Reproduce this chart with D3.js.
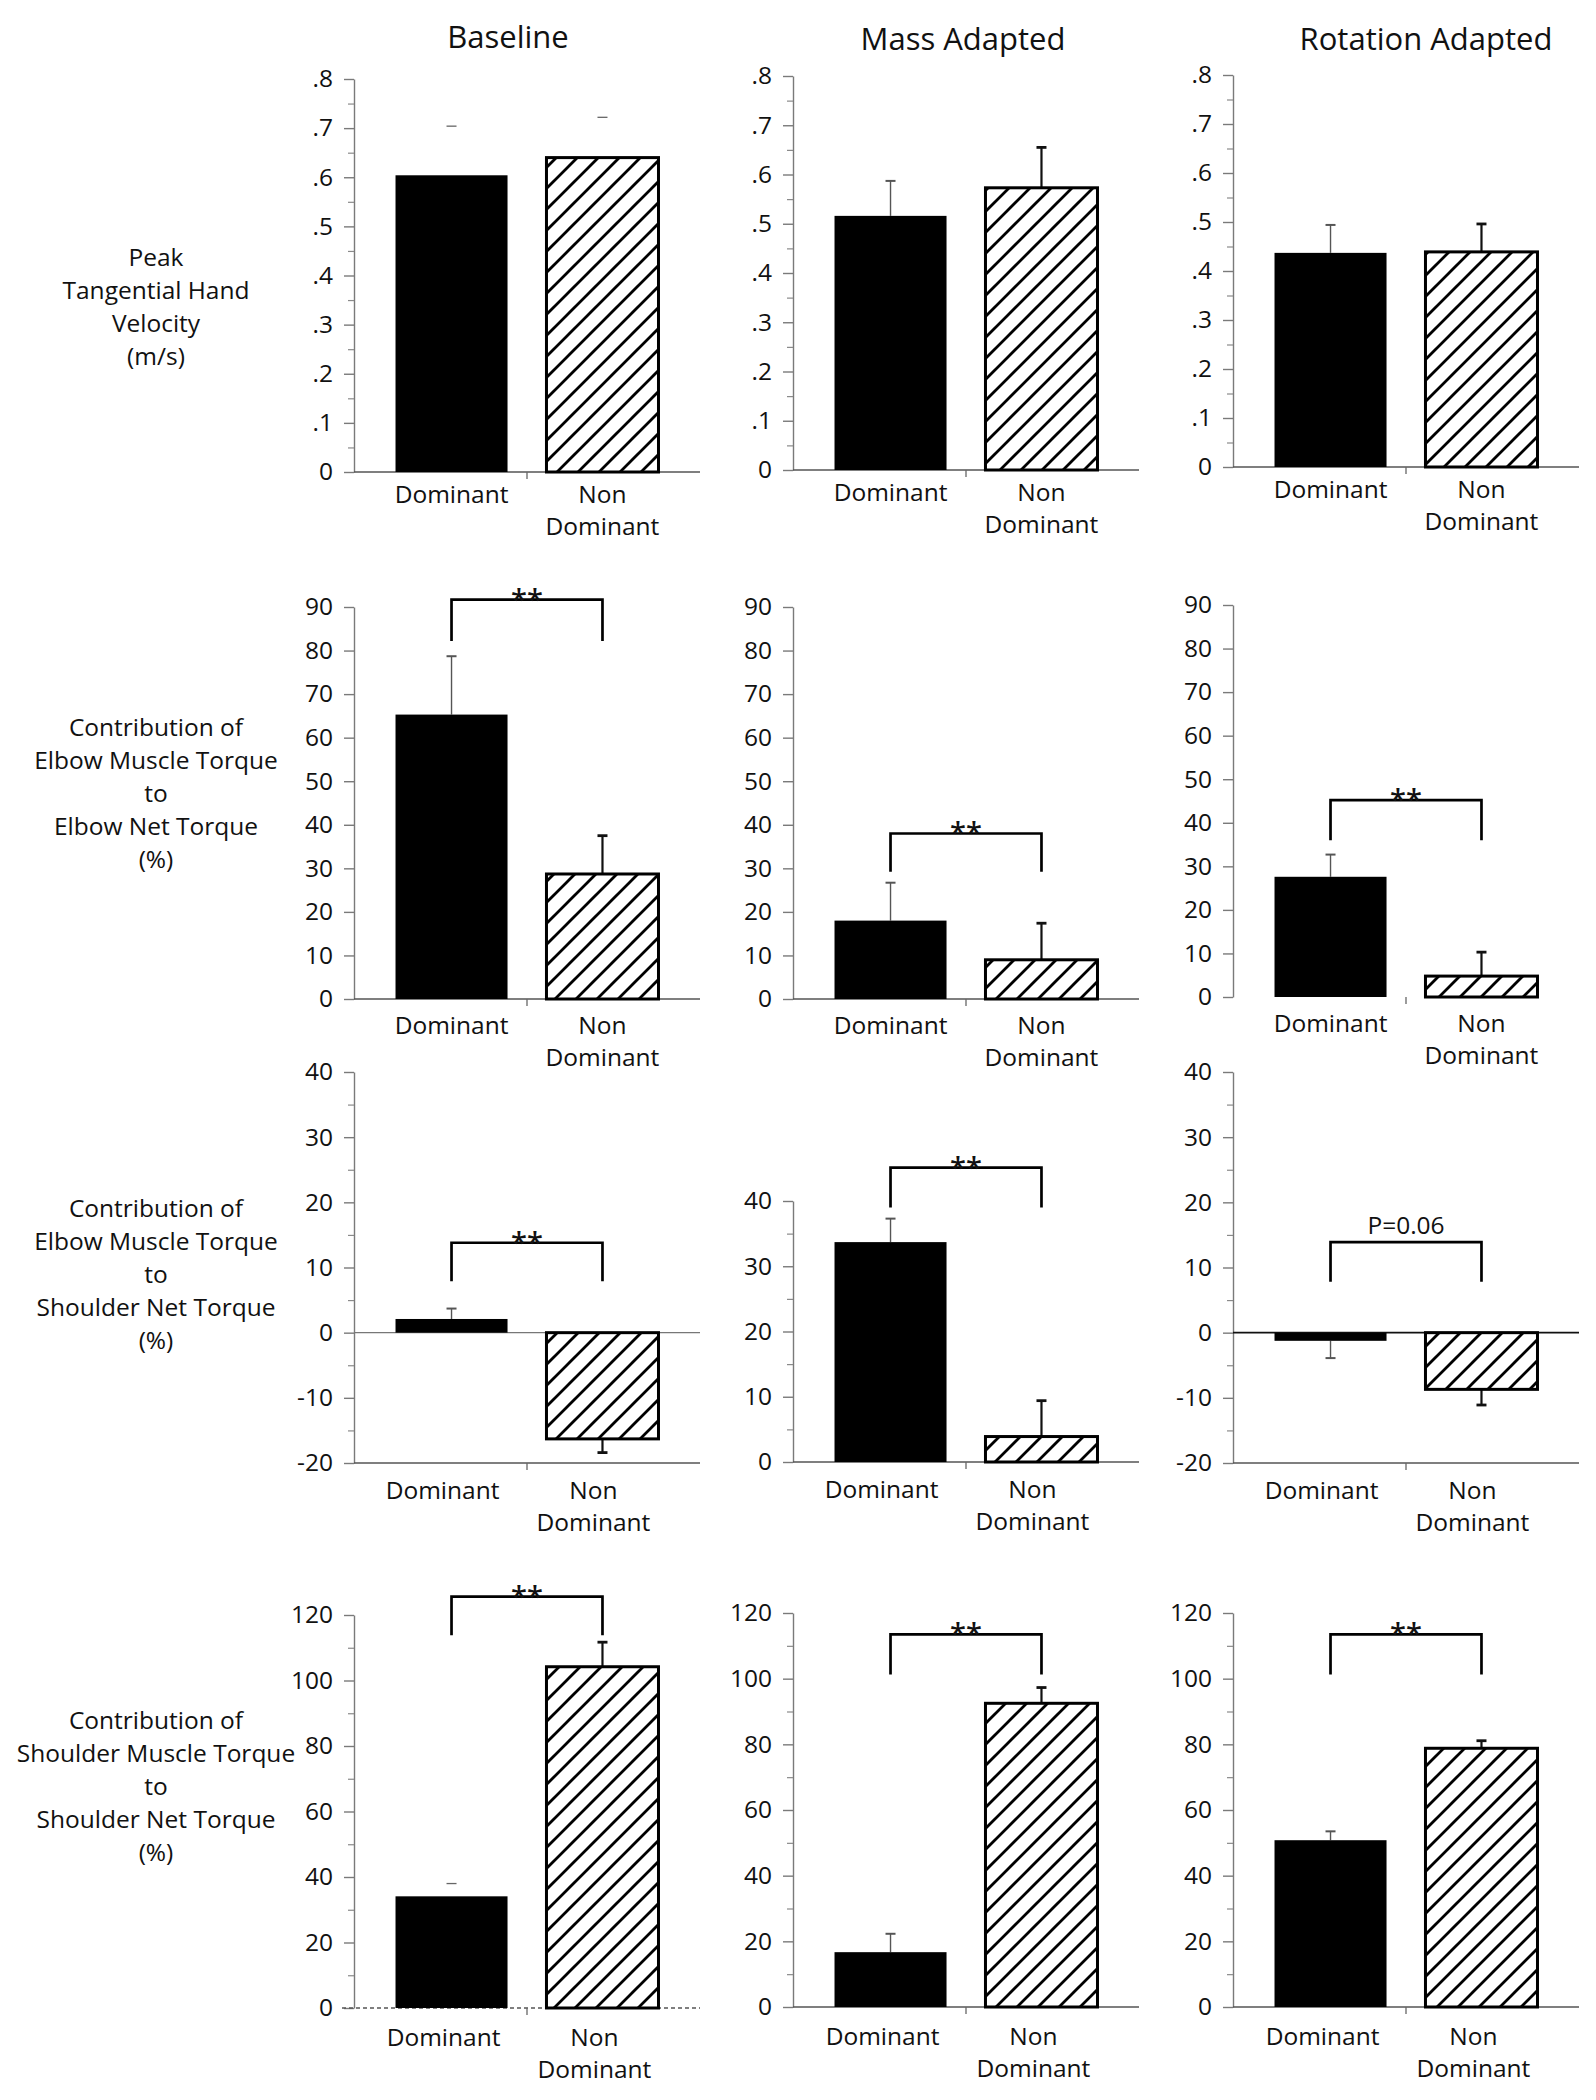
<!DOCTYPE html>
<html><head><meta charset="utf-8">
<script src="https://cdn.jsdelivr.net/npm/d3@7"></script>
<style>
body{margin:0;background:#fff;}
svg text{font-family:"Open Sans",sans-serif;fill:#111;}
</style></head><body>
<svg id="chart" width="1596" height="2100"></svg>
<script>
// ---------------- DATA ----------------
const conditions = ["Baseline", "Mass Adapted", "Rotation Adapted"];
const hands = ["Dominant", "Non Dominant"];
const handLabelLines = [["Dominant"], ["Non", "Dominant"]];

const measureTitles = [
  ["Peak", "Tangential Hand", "Velocity", "(m/s)"],
  ["Contribution of", "Elbow Muscle Torque", "to", "Elbow Net Torque", "(%)"],
  ["Contribution of", "Elbow Muscle Torque", "to", "Shoulder Net Torque", "(%)"],
  ["Contribution of", "Shoulder Muscle Torque", "to", "Shoulder Net Torque", "(%)"]
];

// values are [condition][hand]
const peakVelocityMean = [[0.604, 0.640], [0.516, 0.573], [0.437, 0.439]];
const peakVelocitySD   = [[0.100, 0.082], [0.071, 0.082], [0.057, 0.057]];

const elbowToElbowMean = [[65.3, 28.7], [18.0, 9.0], [27.6, 4.8]];
const elbowToElbowSD   = [[13.4, 8.8], [8.7, 8.4], [5.1, 5.5]];

const elbowToShoulderMean = [[2.1, -16.3], [33.7, 3.9], [-1.25, -8.7]];
const elbowToShoulderSD   = [[1.6, 2.1], [3.6, 5.5], [2.65, 2.4]];

const shoulderToShoulderMean = [[34.1, 104.2], [16.7, 92.5], [50.8, 78.8]];
const shoulderToShoulderSD   = [[3.9, 7.5], [5.6, 4.8], [2.7, 2.3]];

const significanceLabels = [
  [null, null, null],
  ["**", "**", "**"],
  ["**", "**", "P=0.06"],
  ["**", "**", "**"]
];

// tick values and tick labels
const velocityTicks = [0, 0.1, 0.2, 0.3, 0.4, 0.5, 0.6, 0.7, 0.8];
const velocityTickLabels = ["0", ".1", ".2", ".3", ".4", ".5", ".6", ".7", ".8"];
const velocityMinorTicks = [0.05, 0.15, 0.25, 0.35, 0.45, 0.55, 0.65, 0.75];

const elbowElbowTicks = [0, 10, 20, 30, 40, 50, 60, 70, 80, 90];
const elbowElbowTickLabels = ["0", "10", "20", "30", "40", "50", "60", "70", "80", "90"];

const elbowShoulderTicks = [-20, -10, 0, 10, 20, 30, 40];
const elbowShoulderTickLabels = ["-20", "-10", "0", "10", "20", "30", "40"];
const elbowShoulderMinorTicks = [-15, -5, 5, 15, 25, 35];
const elbowShoulderMassTicks = [0, 10, 20, 30, 40];
const elbowShoulderMassTickLabels = ["0", "10", "20", "30", "40"];
const elbowShoulderMassMinorTicks = [5, 15, 25, 35];

const shoulderTicks = [0, 20, 40, 60, 80, 100, 120];
const shoulderTickLabels = ["0", "20", "40", "60", "80", "100", "120"];
const shoulderMinorTicks = [10, 30, 50, 70, 90, 110];

// ---------------- LAYOUT / STYLE ----------------
const colX = [354, 793, 1233];
const titleX = [508, 963, 1426];
const axisLen = 346;
// pixel rows of [domain max, domain min] per panel
const panelPix = [
  [[79, 472], [76, 470], [75, 467]],
  [[607, 999], [607, 999], [605, 997]],
  [[1072, 1463], [1201, 1462], [1072, 1463]],
  [[1615, 2008], [1613, 2007], [1613, 2007]]
];
const rowSpec = [
  {mean: peakVelocityMean, sd: peakVelocitySD, ticks: velocityTicks, labels: velocityTickLabels, minor: velocityMinorTicks, domain: [0, 0.8]},
  {mean: elbowToElbowMean, sd: elbowToElbowSD, ticks: elbowElbowTicks, labels: elbowElbowTickLabels, minor: [], domain: [0, 90]},
  {mean: elbowToShoulderMean, sd: elbowToShoulderSD, ticks: elbowShoulderTicks, labels: elbowShoulderTickLabels, minor: elbowShoulderMinorTicks, domain: [-20, 40]},
  {mean: shoulderToShoulderMean, sd: shoulderToShoulderSD, ticks: shoulderTicks, labels: shoulderTickLabels, minor: shoulderMinorTicks, domain: [0, 120]}
];
// per-panel overrides
function panelScale(r, c) {
  if (r === 2 && c === 1) return {ticks: elbowShoulderMassTicks, labels: elbowShoulderMassTickLabels, minor: elbowShoulderMassMinorTicks, domain: [0, 40]};
  return rowSpec[r];
}
// bracket heights in data units [top, leg end]
const bracketPos = [
  [null, null, null],
  [[91.7, 82.2], [38.0, 29.2], [45.2, 36.0]],
  [[13.8, 7.9], [45.1, 39.0], [13.9, 7.8]],
  [[125.6, 113.8], [113.5, 101.3], [113.5, 101.3]]
];
const baselineStyle = [
  ["solid", "solid", "solid"],
  ["solid", "solid", "none"],
  ["solid", "solid", "solid"],
  ["dashed", "solid", "solid"]
];
const capOnly = {"0-0-0": true, "0-0-1": true, "3-0-0": true};
const labelOffset = [31, 35, 36, 38];
const labelDx = [0, 0, -9, -8];
const measureLabelY = [266, 736, 1217, 1729];

// ---------------- DRAW ----------------
const svg = d3.select("#chart");
const defs = svg.append("defs");
const H = 21;
const pat = defs.append("pattern").attr("id", "hatch").attr("patternUnits", "userSpaceOnUse")
  .attr("width", H).attr("height", H);
pat.append("rect").attr("width", H).attr("height", H).attr("fill", "#fff");
pat.append("path").attr("d", `M-5,5 L5,-5 M0,${H} L${H},0 M${H - 5},${H + 5} L${H + 5},${H - 5}`)
  .attr("stroke", "#000").attr("stroke-width", 2.8);

// column titles
svg.selectAll("text.title").data(conditions).join("text")
  .attr("class", "title")
  .attr("x", (d, i) => titleX[i])
  .attr("y", (d, i) => i === 0 ? 48 : 50)
  .attr("text-anchor", "middle")
  .style("font-size", "31px")
  .text(d => d);

// row titles
measureTitles.forEach((lines, r) => {
  const t = svg.append("text").attr("text-anchor", "middle").style("font-size", "24.5px");
  lines.forEach((ln, i) => {
    t.append("tspan").attr("x", 156).attr("y", measureLabelY[r] + i * 33).text(ln);
  });
});

rowSpec.forEach((spec, r) => {
  conditions.forEach((cond, c) => {
    const ps = panelScale(r, c);
    const [pTop, pBot] = panelPix[r][c];
    const x0 = colX[c];
    const y = d3.scaleLinear().domain(ps.domain).range([pBot, pTop]);
    const x = d3.scaleBand().domain(hands).range([x0, x0 + axisLen])
      .paddingInner(0.258).paddingOuter(0.275);
    const g = svg.append("g");

    // y axis
    const ax = g.append("g").attr("transform", `translate(${x0},0)`)
      .call(d3.axisLeft(y).tickValues(ps.ticks).tickFormat((d, i) => ps.labels[i])
        .tickSize(10).tickSizeOuter(0).tickPadding(11));
    ax.select(".domain").attr("stroke", "#7a7a7a").attr("stroke-width", 1.4);
    ax.selectAll(".tick line").attr("stroke", "#7a7a7a").attr("stroke-width", 1.4);
    ax.selectAll(".tick text").style("font-size", "24.5px").style("font-family", '"Open Sans",sans-serif').attr("fill", "#111");
    if (ps.minor.length) {
      const mx = g.append("g").attr("transform", `translate(${x0},0)`)
        .call(d3.axisLeft(y).tickValues(ps.minor).tickFormat("").tickSize(6).tickSizeOuter(0));
      mx.select(".domain").remove();
      mx.selectAll(".tick line").attr("stroke", "#8a8a8a").attr("stroke-width", 1.2);
    }

    // bottom axis / baseline
    const yMin = y(ps.domain[0]);
    const bs = baselineStyle[r][c];
    if (bs !== "none") {
      g.append("line").attr("x1", bs === "dashed" ? x0 - 12 : x0).attr("x2", x0 + axisLen)
        .attr("y1", yMin).attr("y2", yMin)
        .attr("stroke", "#555").attr("stroke-width", 1.5)
        .attr("stroke-dasharray", bs === "dashed" ? "4,3" : null);
    }
    // center category tick
    g.append("line").attr("x1", x0 + axisLen / 2).attr("x2", x0 + axisLen / 2)
      .attr("y1", yMin).attr("y2", yMin + 7).attr("stroke", "#666").attr("stroke-width", 1.3);

    // zero line if negatives possible
    if (ps.domain[0] < 0) {
      g.append("line").attr("x1", x0).attr("x2", x0 + axisLen)
        .attr("y1", y(0)).attr("y2", y(0))
        .attr("stroke", c === 2 ? "#111" : "#777").attr("stroke-width", c === 2 ? 1.8 : 1.4);
    }

    const vals = hands.map((h, k) => ({h, k, v: spec.mean[c][k], sd: spec.sd[c][k]}));

    // error bars
    vals.forEach(d => {
      const sgn = d.v < 0 ? -1 : 1;
      const yv = y(d.v), ye = y(d.v + sgn * d.sd);
      const cx = x(d.h) + x.bandwidth() / 2;
      const thick = d.k === 1 ? 2.2 : 1.4;
      const col = d.k === 1 ? "#111" : "#555";
      if (!capOnly[`${r}-${c}-${d.k}`]) {
        g.append("line").attr("x1", cx).attr("x2", cx).attr("y1", yv).attr("y2", ye)
          .attr("stroke", col).attr("stroke-width", thick);
        g.append("line").attr("x1", cx - 5).attr("x2", cx + 5).attr("y1", ye).attr("y2", ye)
          .attr("stroke", col).attr("stroke-width", thick + 0.6);
      } else {
        g.append("line").attr("x1", cx - 5).attr("x2", cx + 5).attr("y1", ye).attr("y2", ye)
          .attr("stroke", "#666").attr("stroke-width", 1.3);
      }
    });

    // bars
    g.selectAll("rect.bar").data(vals).join("rect")
      .attr("class", "bar")
      .attr("x", d => x(d.h))
      .attr("width", x.bandwidth())
      .attr("y", d => Math.min(y(d.v), y(0)))
      .attr("height", d => Math.abs(y(d.v) - y(0)))
      .attr("fill", d => d.k === 0 ? "#000" : "url(#hatch)")
      .attr("stroke", d => d.k === 0 ? "none" : "#000")
      .attr("stroke-width", 3);

    // category labels
    hands.forEach((h, k) => {
      const t = g.append("text").attr("text-anchor", "middle").style("font-size", "24.5px");
      handLabelLines[k].forEach((ln, i) => {
        t.append("tspan").attr("x", x(h) + x.bandwidth() / 2 + labelDx[r])
          .attr("y", yMin + labelOffset[r] + i * 32).text(ln);
      });
    });

    // significance bracket
    const sig = significanceLabels[r][c];
    if (sig) {
      const [bt, bl] = bracketPos[r][c];
      const xa = x(hands[0]) + x.bandwidth() / 2, xb = x(hands[1]) + x.bandwidth() / 2;
      g.append("path")
        .attr("d", `M${xa},${y(bl)} L${xa},${y(bt)} L${xb},${y(bt)} L${xb},${y(bl)}`)
        .attr("fill", "none").attr("stroke", "#000").attr("stroke-width", 2.7);
      const isStar = sig.startsWith("*");
      g.append("text").attr("x", (xa + xb) / 2)
        .attr("y", isStar ? y(bt) + 10 : y(bt) - 8)
        .attr("text-anchor", "middle")
        .style("font-size", isStar ? "29px" : "24.5px")
        .style("font-weight", isStar ? "600" : "400")
        .text(sig);
    }
  });
});
</script>
</body></html>
